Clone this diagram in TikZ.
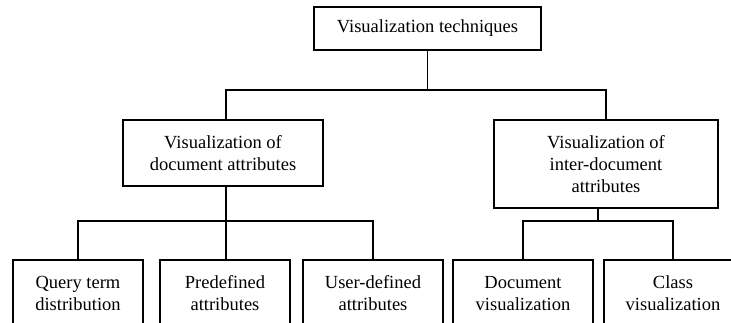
\documentclass[tikz,border=0pt]{standalone}
\usepackage{fontspec}
\setmainfont{Liberation Serif}
\begin{document}
\begin{tikzpicture}[x=1pt,y=-1pt,
  box/.style={draw, line width=1.8pt, inner sep=0pt, align=center,
    font=\fontsize{18.5}{22}\selectfont},
  conn/.style={line width=1.8pt}]
\useasboundingbox (0,0) rectangle (731,323);
\clip (0,0) rectangle (731,323);
\node[box, minimum width=227pt, minimum height=43pt] (top) at (427.5,28.5) {Visualization techniques};
\node[box, minimum width=200pt, minimum height=66pt] (lm) at (223,153) {Visualization of\\document attributes};
\node[box, minimum width=224pt, minimum height=88pt] (rm) at (606,164) {Visualization of\\inter-document\\attributes};
\node[box, minimum width=130pt, minimum height=67pt] (b1) at (78,293.5) {Query term\\distribution};
\node[box, minimum width=130pt, minimum height=67pt] (b2) at (225,293.5) {Predefined\\attributes};
\node[box, minimum width=140pt, minimum height=67pt] (b3) at (373,293.5) {User-defined\\attributes};
\node[box, minimum width=140pt, minimum height=67pt] (b4) at (523,293.5) {Document\\visualization};
\node[box, minimum width=138pt, minimum height=67pt] (b5) at (673,293.5) {Class\\visualization};
\coordinate (j1) at (427.5,90);
\coordinate (j2) at (226,221);
\coordinate (j3) at (598,221);
\draw[conn] (top.south) -- (j1);
\draw[conn] (lm.north -| j2) |- (j1) -| (rm.north);
\draw[conn] (lm.south -| j2) -- (j2);
\draw[conn] (b1.north) |- (j2) -| (b3.north);
\draw[conn] (j2) -- (j2 |- b2.north);
\draw[conn] (rm.south -| j3) -- (j3);
\draw[conn] (b4.north) |- (j3) -| (b5.north);
\end{tikzpicture}
\end{document}
